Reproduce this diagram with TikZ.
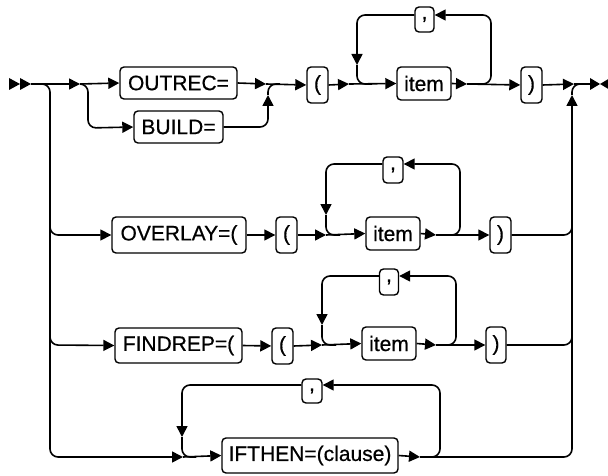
\documentclass[tikz,border=0pt]{standalone}
\usepackage{fontspec}
\setmainfont[FakeBold=0.6]{Liberation Sans}
\usetikzlibrary{arrows.meta}
\begin{document}
\begin{tikzpicture}[x=1pt,y=-1pt,
  rail/.style={line width=1.6pt, rounded corners=8pt},
  arr/.style={rail, -{Triangle[length=11pt,width=11pt]}},
  tok/.style={draw, line width=1.4pt, rounded corners=4pt, inner sep=0pt,
    font=\fontsize{21}{22}\selectfont, minimum height=33pt}]
\useasboundingbox (0,0) rectangle (608,476);

% ---- nodes ----
\node[tok, minimum width=117pt, minimum height=32pt] (outrec) at (178.5,83) {OUTREC=};
\node[tok, minimum width=89pt, minimum height=32pt] (build) at (178.5,127) {BUILD=};
\node[tok, minimum width=21pt, minimum height=36pt] (lp1) at (317.5,85) {(};
\node[tok, minimum width=54pt] (item1) at (424,83.5) {item};
\node[tok, minimum width=19pt, minimum height=25pt] (c1) at (424.5,19.5) {,};
\node[tok, minimum width=21pt, minimum height=36pt] (rp1) at (531.5,85) {)};

\node[tok, minimum width=134pt, minimum height=36pt] (overlay) at (179,235) {OVERLAY=(};
\node[tok, minimum width=21pt, minimum height=36pt] (lp2) at (286.5,235) {(};
\node[tok, minimum width=54pt] (item2) at (393,233.5) {item};
\node[tok, minimum width=20pt, minimum height=26pt] (c2) at (393,170) {,};
\node[tok, minimum width=21pt, minimum height=36pt] (rp2) at (500.5,235) {)};

\node[tok, minimum width=127pt, minimum height=35pt] (findrep) at (178.5,345.5) {FINDREP=(};
\node[tok, minimum width=21pt, minimum height=36pt] (lp3) at (282.5,346) {(};
\node[tok, minimum width=54pt] (item3) at (389,343.5) {item};
\node[tok, minimum width=19pt, minimum height=26pt] (c3) at (389,282) {,};
\node[tok, minimum width=20pt, minimum height=36pt] (rp3) at (496,345) {)};

\node[tok, minimum width=176pt, minimum height=35pt] (ifthen) at (310,455.5) {IFTHEN=(clause)};
\node[tok, minimum width=20pt, minimum height=24pt] (c4) at (312,391) {,};

% ---- start / end markers ----
\fill (9,78) -- (20,84) -- (9,90) -- cycle;
\fill (20,78) -- (31,84) -- (20,90) -- cycle;
\fill (590,78) -- (600,84) -- (590,90) -- cycle;
\fill (610,78) -- (600,84) -- (610,90) -- cycle;

\coordinate (st) at (31,84);
\coordinate (a1) at (80,84);
\coordinate (m1) at (266,84);
\coordinate (b1) at (349,84);
\coordinate (e1) at (467,84);
\coordinate (m2) at (574,84);
\coordinate (fin) at (591,84);

% ---- main line ----
\draw[arr] (st) -- (a1);
\draw[arr] (a1) -- (outrec.west);
\draw[arr] (a1) -- (88,84) -- (88,128) -- (build.west);
\draw[arr] (outrec.east) -- (m1);
\draw[arr] (build.east) -| (268,95);
\draw[rail] (268,95) -- (268,84) -- (280,84);
\draw[arr] (m1) -- (lp1.west);
\draw[arr] (lp1.east) -- (b1);
\draw[arr] (b1) -- (item1.west);
\draw[arr] ([yshift=4.5pt]c1.west) -| (357,65);
\draw[rail] (357,65) -- (357,84) -- (372,84);
\draw[arr] (item1.east) -- (e1);
\draw[arr] (e1) -- (491,84) -- (491,15) -- ([yshift=4.5pt]c1.east);
\draw[arr] (e1) -- (rp1.west);
\draw[arr] (rp1.east) -- (m2);
\draw[rail] (m2) -- (fin);

% ---- left trunk ----
\draw[arr] (38,84) -- (50,84) -- (50,457) -- (183,457);

% ---- right trunk ----
\draw[arr] (420,457) -- (572,457) -- (572,95);
\draw[rail] (572,95) -- (572,84) -- (584,84);

% ---- row 2 ----
\draw[arr] (50,220) -- (50,235) -- (overlay.west);
\draw[arr] (overlay.east) -- (lp2.west);
\draw[arr] (lp2.east) -- (326,235);
\draw[arr] (326,235) -- (item2.west);
\draw[arr] ([yshift=6pt]c2.west) -| (326,215);
\draw[rail] (326,215) -- (326,235) -- (340,235);
\draw[arr] (item2.east) -- (436,235);
\draw[arr] (436,235) -- (460,235) -- (460,164) -- ([yshift=6pt]c2.east);
\draw[arr] (436,235) -- (rp2.west);
\draw[rail] (rp2.east) -- (572,235) -- (572,220);

% ---- row 3 ----
\draw[arr] (50,330) -- (50,345) -- (findrep.west);
\draw[arr] (findrep.east) -- (lp3.west);
\draw[arr] (lp3.east) -- (322,345);
\draw[arr] (322,345) -- (item3.west);
\draw[arr] ([yshift=6pt]c3.west) -| (322,325);
\draw[rail] (322,325) -- (322,345) -- (336,345);
\draw[arr] (item3.east) -- (436,345);
\draw[arr] (436,345) -- (456,345) -- (456,276) -- ([yshift=6pt]c3.east);
\draw[arr] (436,345) -- (rp3.west);
\draw[rail] (rp3.east) -- (572,345) -- (572,330);

% ---- row 4 ----
\draw[arr] ([yshift=6pt]c4.west) -| (182,437);
\draw[rail] (182,437) -- (182,457) -- (196,457);
\draw[arr] (183,457) -- (ifthen.west);
\draw[arr] (ifthen.east) -- (420,457);
\draw[arr] (420,457) -- (440,457) -- (440,385) -- ([yshift=6pt]c4.east);
\end{tikzpicture}
\end{document}
